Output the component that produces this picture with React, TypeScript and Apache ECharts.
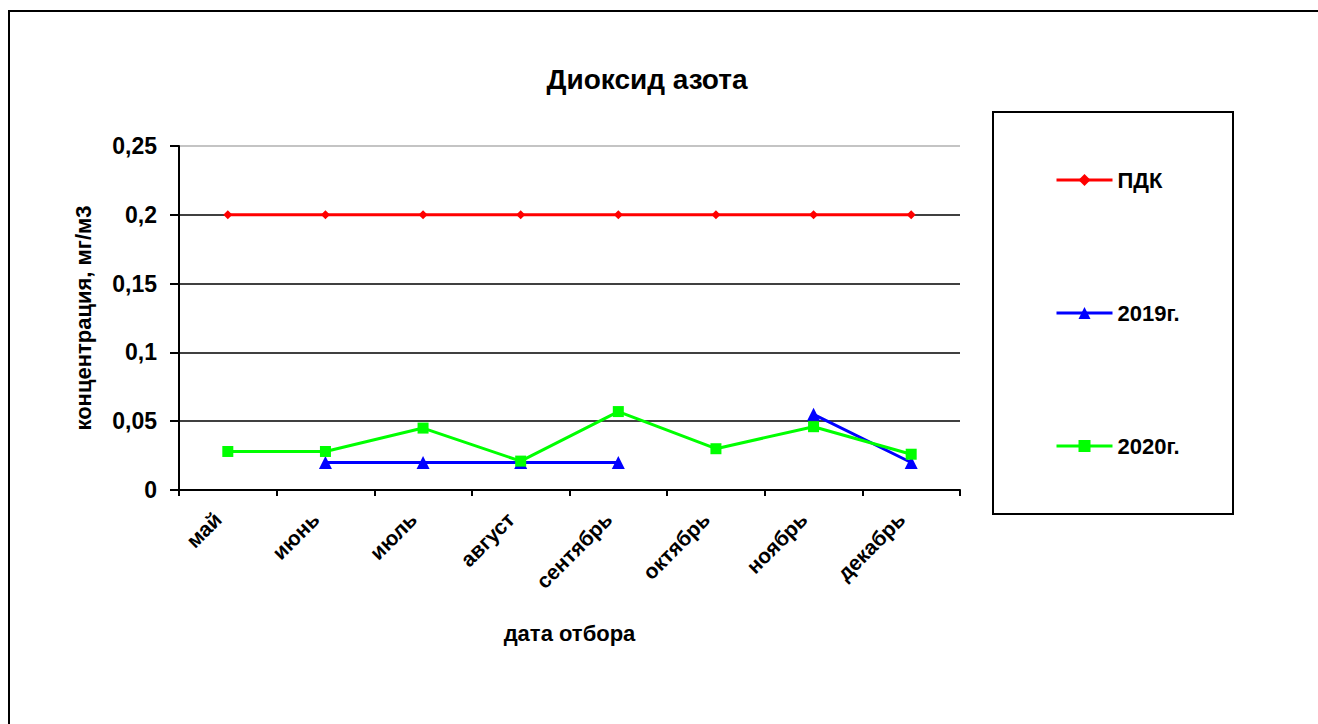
import React, { useEffect, useRef } from "react";
import * as echarts from "echarts";

const categories = ["май", "июнь", "июль", "август", "сентябрь", "октябрь", "ноябрь", "декабрь"];
const pdk = [0.2, 0.2, 0.2, 0.2, 0.2, 0.2, 0.2, 0.2];
const y2019 = [null, 0.02, 0.02, 0.02, 0.02, null, 0.055, 0.02];
const y2020 = [0.028, 0.028, 0.045, 0.021, 0.057, 0.03, 0.046, 0.026];
const yTicks = [0, 0.05, 0.1, 0.15, 0.2, 0.25];

const FONT = "'Liberation Sans', Arial, sans-serif";

export default function App() {
  const ref = useRef<HTMLDivElement>(null);
  useEffect(() => {
    if (!ref.current) return;
    const chart = echarts.init(ref.current, null, { renderer: "svg" });
    chart.setOption({
      animation: false,
      backgroundColor: "#fff",
      textStyle: { fontFamily: FONT },
      title: {
        text: "Диоксид азота",
        left: 642,
        top: 60,
        textAlign: "center",
        textStyle: { fontFamily: FONT, fontSize: 28, fontWeight: "bold", color: "#000" },
      },
      grid: { left: 179, right: 358, top: 146, bottom: 234, containLabel: false },
      legend: {
        orient: "vertical",
        left: 1050,
        top: 164,
        itemGap: 111,
        itemWidth: 56,
        itemHeight: 15,
        lineStyle: { width: 3 },
        textStyle: { fontFamily: FONT, fontSize: 22, fontWeight: "bold", color: "#000", lineHeight: 22 },
        data: ["ПДК", "2019г.", "2020г."],
      },
      xAxis: {
        type: "category",
        data: categories,
        boundaryGap: true,
        name: "дата отбора",
        nameLocation: "middle",
        nameGap: 132,
        nameTextStyle: { fontFamily: FONT, fontSize: 22, fontWeight: "bold", color: "#000" },
        axisLine: { lineStyle: { color: "#000", width: 2 } },
        axisTick: { show: true, length: 6, lineStyle: { color: "#000", width: 2 } },
        axisLabel: {
          rotate: 45,
          margin: 16,
          padding: [0, 14, 0, 0],
          fontFamily: FONT,
          fontSize: 21,
          fontWeight: "bold",
          color: "#000",
          interval: 0,
        },
        splitLine: { show: false },
      },
      yAxis: {
        type: "value",
        min: 0,
        max: 0.25,
        interval: 0.05,
        name: "концентрация, мг/м3",
        nameLocation: "middle",
        nameGap: 85,
        nameRotate: 90,
        nameTextStyle: { fontFamily: FONT, fontSize: 22, fontWeight: "bold", color: "#000" },
        axisLine: { show: true, lineStyle: { color: "#000", width: 2 } },
        axisTick: { show: true, length: 9, lineStyle: { color: "#000", width: 2 } },
        axisLabel: {
          margin: 22,
          fontFamily: FONT,
          fontSize: 23,
          fontWeight: "bold",
          color: "#000",
          formatter: (v: number) => {
            const t = yTicks.find((x) => Math.abs(x - v) < 1e-9);
            return String(t !== undefined ? t : v).replace(".", ",");
          },
        },
        splitLine: {
          show: true,
          lineStyle: { color: ["#000", "#000", "#000", "#000", "#000", "#b0b0b0"], width: 1.6 },
        },
      },
      graphic: [
        {
          type: "rect",
          shape: { x: 9, y: 11, width: 1320, height: 730 },
          style: { fill: "none", stroke: "#000", lineWidth: 2 },
          silent: true,
          z: -1,
        },
        {
          type: "rect",
          shape: { x: 993, y: 112, width: 240, height: 402 },
          style: { fill: "none", stroke: "#000", lineWidth: 2 },
          silent: true,
        },
      ],
      series: [
        {
          name: "ПДК",
          type: "line",
          data: pdk,
          color: "#ff0000",
          lineStyle: { width: 3, color: "#ff0000" },
          symbol: "diamond",
          symbolSize: 9,
          itemStyle: { color: "#ff0000" },
        },
        {
          name: "2019г.",
          type: "line",
          data: y2019,
          connectNulls: false,
          color: "#0000ff",
          lineStyle: { width: 3, color: "#0000ff" },
          symbol: "triangle",
          symbolSize: 13,
          itemStyle: { color: "#0000ff" },
        },
        {
          name: "2020г.",
          type: "line",
          data: y2020,
          color: "#00ff00",
          lineStyle: { width: 3, color: "#00ff00" },
          symbol: "rect",
          symbolSize: 11,
          itemStyle: { color: "#00ff00" },
        },
      ],
    });
    return () => chart.dispose();
  }, []);
  return (
    <div
      ref={ref}
      style={{ position: "fixed", left: 0, top: 0, width: 1318, height: 724, background: "#fff" }}
    />
  );
}
